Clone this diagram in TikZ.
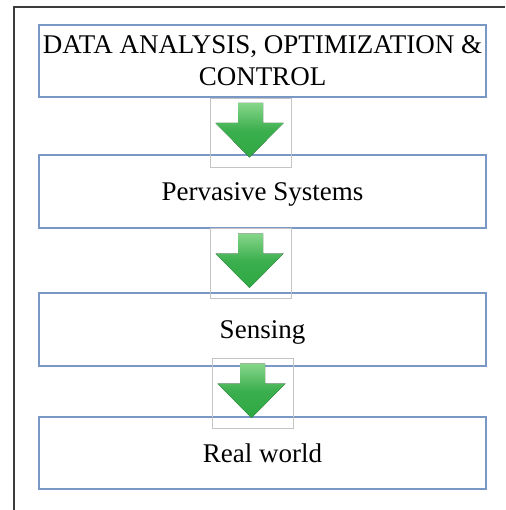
\documentclass[tikz,border=0pt]{standalone}
\usepackage{fontspec}
\setmainfont{Liberation Serif}
\usetikzlibrary{calc}
\definecolor{boxblue}{HTML}{7A98C6}
\definecolor{framegray}{HTML}{C4C4C4}
\definecolor{outergray}{HTML}{3C3C3C}
\definecolor{arrowlight}{HTML}{86D68A}
\definecolor{arrowdark}{HTML}{2EA843}
\tikzset{
  layerbox/.style={draw=boxblue, line width=1.3pt, fill=white, rectangle,
    minimum width=447pt, inner sep=0pt, align=center,
    font=\fontsize{27}{32}\selectfont},
  oneline/.style={text height=21.5pt, text depth=3.5pt},
  arrowframe/.style={draw=framegray, line width=0.9pt, rectangle,
    minimum width=81pt, minimum height=70pt, inner sep=0pt},
  blockarrow/.style={top color=arrowlight, bottom color=arrowdark,
    middle color=arrowdark!85!arrowlight, draw=none}
}
\begin{document}
\begin{tikzpicture}[x=1pt,y=-1pt]
\useasboundingbox (0,0) rectangle (505,510);
% outer frame
\draw[outergray, line width=1.5pt] (14,510) -- (14,7) -- (505,7);
% boxes
\node[layerbox, minimum height=72pt] (b1) at (262.5,61) {DATA ANALYSIS, OPTIMIZATION \&\\CONTROL};
\node[layerbox, oneline, minimum height=73pt] (b2) at (262.5,191.5) {Pervasive Systems};
\node[layerbox, oneline, minimum height=73pt] (b3) at (262.5,329.5) {Sensing};
\node[layerbox, oneline, minimum height=72pt] (b4) at (262.5,453) {Real world};
% arrow frames
\node[arrowframe, minimum height=69pt] (f1) at (250.5,132.5) {};
\node[arrowframe] (f2) at (250.5,263) {};
\node[arrowframe] (f3) at (252.5,393) {};
% block arrows
\foreach \f in {f1,f2,f3}{
  \fill[blockarrow]
    ($(\f.center)+(-12.5,-29.5)$) -- ($(\f.center)+(12.5,-29.5)$) --
    ($(\f.center)+(12.5,-9.5)$) -- ($(\f.center)+(33,-9.5)$) --
    ($(\f.center)+(-1,25)$) -- ($(\f.center)+(-35,-9.5)$) --
    ($(\f.center)+(-12.5,-9.5)$) -- cycle;
}
\end{tikzpicture}
\end{document}
